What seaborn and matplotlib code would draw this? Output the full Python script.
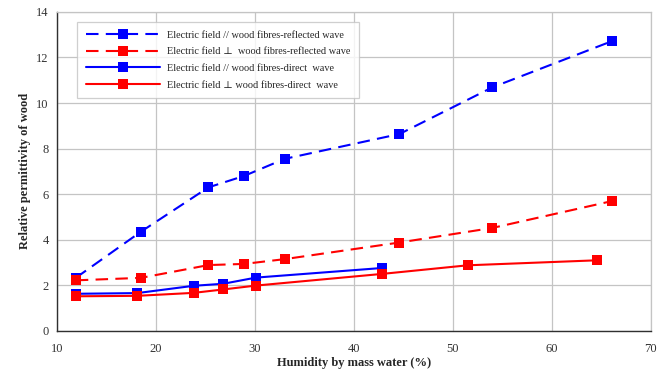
import matplotlib
matplotlib.use("Agg")
import matplotlib.pyplot as plt
import seaborn as sns
import pandas as pd

# Data
x_par_refl = [11.9, 18.5, 25.3, 28.9, 33.0, 44.6, 54.0, 66.1]
y_par_refl = [2.33, 4.36, 6.30, 6.80, 7.55, 8.64, 10.69, 12.72]

x_perp_refl = [11.9, 18.5, 25.3, 28.9, 33.0, 44.6, 54.0, 66.1]
y_perp_refl = [2.22, 2.33, 2.89, 2.94, 3.15, 3.88, 4.52, 5.70]

x_par_dir = [11.9, 18.1, 23.8, 26.8, 30.1, 42.8]
y_par_dir = [1.63, 1.66, 1.98, 2.07, 2.34, 2.76]

x_perp_dir = [11.9, 18.1, 23.8, 26.8, 30.1, 42.8, 51.5, 64.6]
y_perp_dir = [1.52, 1.54, 1.67, 1.82, 1.99, 2.50, 2.88, 3.10]

labels = [
    "Electric field // wood fibres-reflected wave",
    "Electric field \u22a5  wood fibres-reflected wave",
    "Electric field // wood fibres-direct  wave",
    "Electric field \u22a5 wood fibres-direct  wave",
]
colors = ["#0000ff", "#ff0000", "#0000ff", "#ff0000"]
dashed = [True, True, False, False]

x_ticks = [10, 20, 30, 40, 50, 60, 70]
y_ticks = [0, 2, 4, 6, 8, 10, 12, 14]

sns.set_style("white")
plt.rcParams['font.family'] = ['Liberation Serif', 'DejaVu Serif']

fig = plt.figure(figsize=(6.65, 3.71), dpi=100)
ax = fig.add_axes([0.0857, 0.108, 0.893, 0.860])

series = [(x_par_refl, y_par_refl), (x_perp_refl, y_perp_refl),
          (x_par_dir, y_par_dir), (x_perp_dir, y_perp_dir)]
for (xs, ys), lab, c, d in zip(series, labels, colors, dashed):
    df = pd.DataFrame({"x": xs, "y": ys})
    sns.lineplot(data=df, x="x", y="y", ax=ax, color=c, label=lab,
                 marker="s", markersize=6.8, markeredgewidth=0,
                 linewidth=1.5, linestyle=(0, (6, 3.5)) if d else "-",
                 estimator=None, sort=False)

ax.set_xlim(10, 70)
ax.set_ylim(0, 14)
ax.set_xticks(x_ticks)
ax.set_yticks(y_ticks)
ax.grid(True, color="#c4c4c4", linewidth=0.9)
ax.set_axisbelow(True)
for s in ["top", "right"]:
    ax.spines[s].set_color("#c4c4c4")
    ax.spines[s].set_linewidth(0.9)
for s in ["left", "bottom"]:
    ax.spines[s].set_color("#303030")
    ax.spines[s].set_linewidth(1.0)
ax.tick_params(axis="both", direction="in", length=4, width=1,
               color="#303030", labelsize=9, labelcolor="#333333")
ax.tick_params(axis="x", pad=9)
ax.tick_params(axis="y", pad=6)

ax.set_xlabel("Humidity by mass water (%)", fontsize=9, fontweight="bold", labelpad=1)
ax.set_ylabel("Relative permittivity of wood", fontsize=9, fontweight="bold", labelpad=4)

leg = ax.legend(loc="upper left", bbox_to_anchor=(0.025, 0.985), fontsize=7.4,
                frameon=True, fancybox=False, edgecolor="#c4c4c4",
                handlelength=7.2, borderpad=0.85, labelspacing=0.72,
                handletextpad=0.7)
leg.get_frame().set_linewidth(0.9)

fig.savefig("out.png", dpi=100)
